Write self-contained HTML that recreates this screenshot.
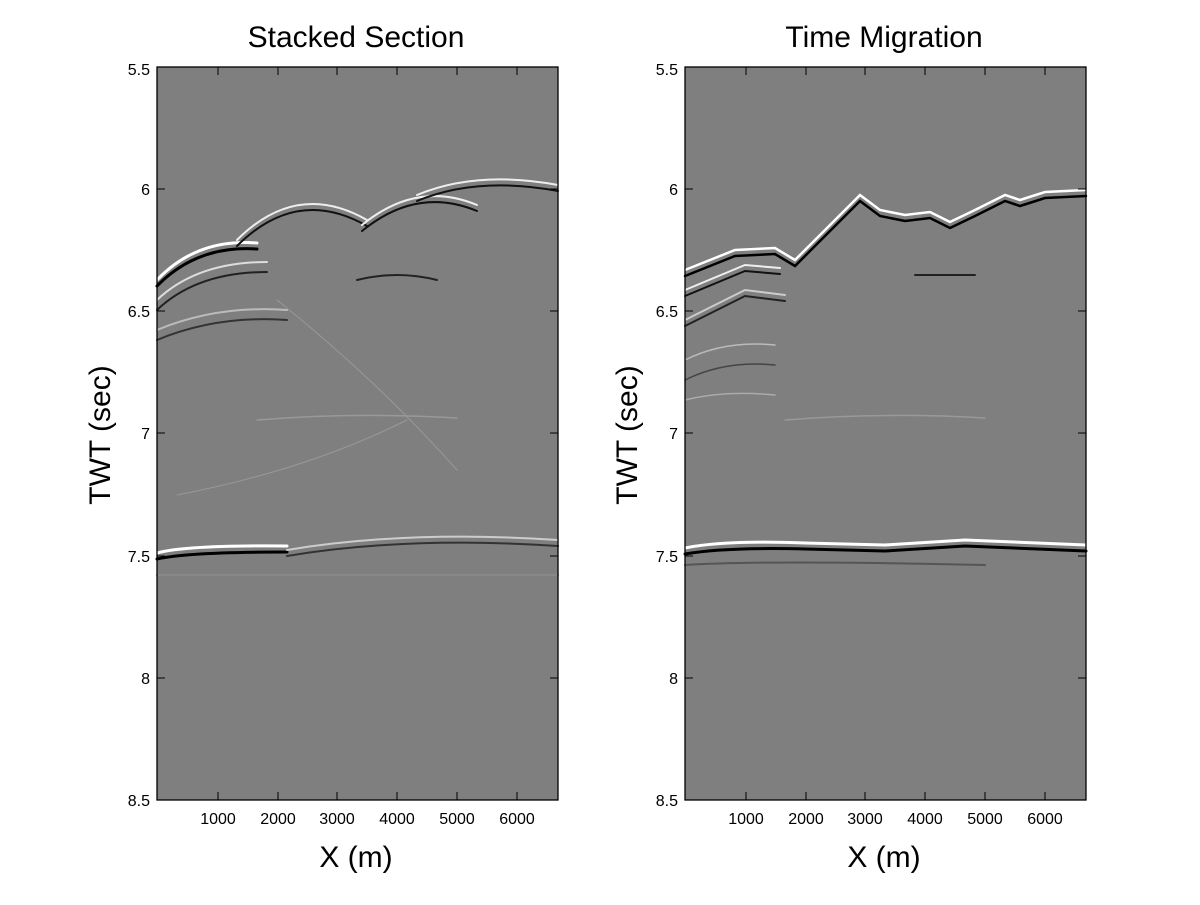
<!DOCTYPE html>
<html><head><style>
body{margin:0;background:#fff;}
svg text{font-family:"Liberation Sans",sans-serif;fill:#000;}
</style></head><body>
<svg width="1200" height="900" xmlns="http://www.w3.org/2000/svg">
<defs>
<g id="tk">
<path d="M0 189h8M0 311h8M0 433h8M0 556h8M0 678h8M401 189h-8M401 311h-8M401 433h-8M401 556h-8M401 678h-8M61 67v8M121 67v8M180 67v8M240 67v8M300 67v8M360 67v8M61 800v-8M121 800v-8M180 800v-8M240 800v-8M300 800v-8M360 800v-8" stroke="#000" stroke-width="1"/>
</g>
</defs>
<!-- Left panel -->
<g transform="translate(157,0)">
<rect x="0" y="67" width="401" height="733" fill="#7f7f7f"/>
<g fill="none" stroke-linecap="round">
<path d="M0 280 Q40 238 100 243" stroke="#fff" stroke-width="3"/>
<path d="M0 286 Q40 245 100 249" stroke="#000" stroke-width="3"/>
<path d="M0 300 Q40 262 110 262" stroke="#ddd" stroke-width="2"/>
<path d="M0 310 Q40 272 110 272" stroke="#222" stroke-width="2"/>
<path d="M0 330 Q60 305 130 310" stroke="#bbb" stroke-width="2"/>
<path d="M0 340 Q60 315 130 320" stroke="#333" stroke-width="2"/>
<path d="M80 240 Q140 180 210 220" stroke="#eee" stroke-width="2"/>
<path d="M80 246 Q140 186 210 226" stroke="#111" stroke-width="2"/>
<path d="M205 225 Q260 180 320 205" stroke="#eee" stroke-width="2"/>
<path d="M205 231 Q260 186 320 211" stroke="#111" stroke-width="2"/>
<path d="M260 195 Q320 170 401 185" stroke="#eee" stroke-width="2"/>
<path d="M260 201 Q320 176 401 191" stroke="#111" stroke-width="2"/>
<path d="M200 280 Q240 270 280 280" stroke="#222" stroke-width="2"/>
<path d="M100 420 Q200 412 300 418" stroke="#999" stroke-width="1.5"/>
<path d="M20 495 Q150 470 250 420" stroke="#999" stroke-width="1"/>
<path d="M120 300 Q220 380 300 470" stroke="#999" stroke-width="1"/>
<path d="M0 553 Q30 545 130 546" stroke="#fff" stroke-width="3"/>
<path d="M0 559 Q30 552 130 552" stroke="#000" stroke-width="3"/>
<path d="M130 550 Q250 530 401 540" stroke="#ccc" stroke-width="2"/>
<path d="M130 556 Q250 536 401 546" stroke="#333" stroke-width="2"/>
<path d="M0 575 H401" stroke="#888" stroke-width="2"/>
</g>
<use href="#tk"/>
<rect x="0" y="67" width="401" height="733" fill="none" stroke="#000" stroke-width="1.3"/>
</g>
<!-- Right panel -->
<g transform="translate(685,0)">
<rect x="0" y="67" width="401" height="733" fill="#7f7f7f"/>
<g fill="none" stroke-linecap="round">
<path d="M0 270 L50 250 L90 248 L110 260 L150 220 L175 195 L195 210 L220 215 L245 212 L265 222 L290 210 L320 195 L335 200 L360 192 L401 190" stroke="#fff" stroke-width="2.5"/>
<path d="M0 276 L50 256 L90 254 L110 266 L150 226 L175 201 L195 216 L220 221 L245 218 L265 228 L290 216 L320 201 L335 206 L360 198 L401 196" stroke="#000" stroke-width="2.5"/>
<path d="M0 290 L60 265 L95 268" stroke="#eee" stroke-width="2"/>
<path d="M0 296 L60 271 L95 274" stroke="#111" stroke-width="2"/>
<path d="M0 320 L60 290 L100 295" stroke="#ccc" stroke-width="2"/>
<path d="M0 326 L60 296 L100 301" stroke="#222" stroke-width="2"/>
<path d="M0 360 Q40 340 90 345" stroke="#bbb" stroke-width="1.5"/>
<path d="M0 380 Q40 360 90 365" stroke="#444" stroke-width="1.5"/>
<path d="M0 400 Q40 390 90 395" stroke="#aaa" stroke-width="1.5"/>
<path d="M230 275 L290 275" stroke="#222" stroke-width="2"/>
<path d="M100 420 Q200 412 300 418" stroke="#999" stroke-width="1.5"/>
<path d="M0 548 Q40 540 120 543 L200 545 L280 540 L401 545" stroke="#fff" stroke-width="3"/>
<path d="M0 554 Q40 547 120 549 L200 551 L280 546 L401 551" stroke="#000" stroke-width="3"/>
<path d="M0 565 Q80 560 300 565" stroke="#555" stroke-width="2"/>
</g>
<use href="#tk"/>
<rect x="0" y="67" width="401" height="733" fill="none" stroke="#000" stroke-width="1.3"/>
</g>
<!-- Titles -->
<text x="356" y="47" font-size="30" text-anchor="middle">Stacked Section</text>
<text x="884" y="47" font-size="30" text-anchor="middle">Time Migration</text>
<!-- Y tick labels -->
<g font-size="16" text-anchor="end">
<text x="150" y="75">5.5</text><text x="150" y="195">6</text><text x="150" y="317">6.5</text><text x="150" y="439">7</text><text x="150" y="562">7.5</text><text x="150" y="684">8</text><text x="150" y="806">8.5</text>
<text x="678" y="75">5.5</text><text x="678" y="195">6</text><text x="678" y="317">6.5</text><text x="678" y="439">7</text><text x="678" y="562">7.5</text><text x="678" y="684">8</text><text x="678" y="806">8.5</text>
</g>
<g font-size="16" text-anchor="middle">
<text x="218" y="824">1000</text><text x="278" y="824">2000</text><text x="337" y="824">3000</text><text x="397" y="824">4000</text><text x="457" y="824">5000</text><text x="517" y="824">6000</text>
<text x="746" y="824">1000</text><text x="806" y="824">2000</text><text x="865" y="824">3000</text><text x="925" y="824">4000</text><text x="985" y="824">5000</text><text x="1045" y="824">6000</text>
</g>
<text x="356" y="867" font-size="30" text-anchor="middle">X (m)</text>
<text x="884" y="867" font-size="30" text-anchor="middle">X (m)</text>
<text transform="translate(110,435) rotate(-90)" font-size="30" text-anchor="middle">TWT (sec)</text>
<text transform="translate(637,435) rotate(-90)" font-size="30" text-anchor="middle">TWT (sec)</text>
</svg>
</body></html>
